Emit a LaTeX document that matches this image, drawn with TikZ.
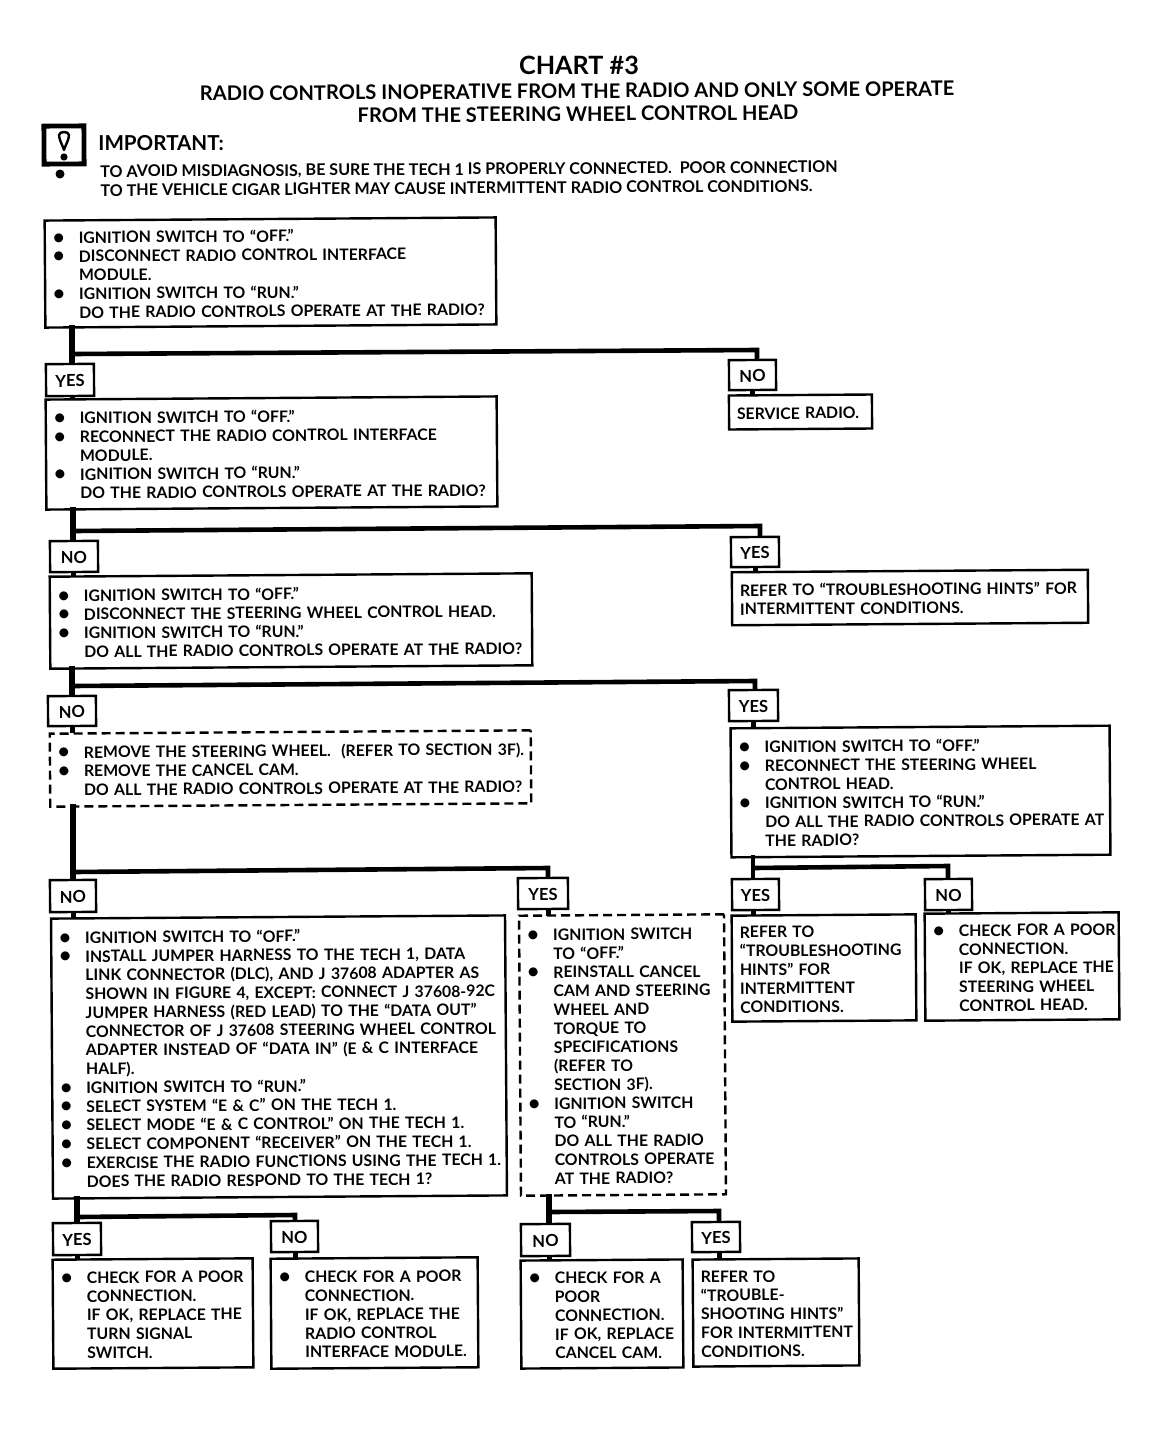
\documentclass[tikz,border=0pt]{standalone}
\usepackage{fontspec}
\setmainfont{Lato}[BoldFont={Lato Bold}]
\newcommand\bodysize{\fontsize{7.9pt}{9.38pt}\selectfont\bfseries}
\newcommand\bigdot{\smash{\raisebox{-0.3pt}{\scalebox{1.3}{\textbullet}}}}
\newcommand\B[1]{\mbox{\makebox[13pt][l]{\bigdot}#1}}
\newcommand\N[1]{\mbox{\hspace{13pt}#1}}
\newcommand\T[1]{\mbox{#1}}
\newcommand\BX[7]{%
  \pgfmathsetlengthmacro\bxw{(#4-#2)*0.5pt}%
  \pgfmathsetlengthmacro\bxh{(#5-#3)*0.5pt}%
  \pgfmathsetlengthmacro\bxt{(#4-#2)*0.5pt-8pt}%
  \pgfmathsetmacro\cx{(#2+#4)/2}%
  \pgfmathsetmacro\cy{(#3+#5)/2}%
  \node[#6,minimum width=\bxw,minimum height=\bxh,text width=\bxt] (#1) at (\cx,\cy) {\rule{0pt}{7pt}#7};}
\newcommand\LB[6]{%
  \pgfmathsetlengthmacro\bxw{(#4-#2)*0.5pt}%
  \pgfmathsetlengthmacro\bxh{(#5-#3)*0.5pt}%
  \pgfmathsetmacro\cx{(#2+#4)/2}%
  \pgfmathsetmacro\cy{(#3+#5)/2}%
  \node[lab,minimum width=\bxw,minimum height=\bxh] (#1) at (\cx,\cy) {\rule{0pt}{7pt}#6};}
\tikzset{
  solidbox/.style={draw=black,line width=1.2pt,rotate=0.4,inner xsep=4pt,inner ysep=0pt,align=left,font=\bodysize},
  dashbox/.style={solidbox,dash pattern=on 4.5pt off 2.5pt},
  lab/.style={draw=black,line width=1.2pt,rotate=0.4,inner sep=0pt,font=\fontsize{8.3pt}{10pt}\selectfont\bfseries},
  trunk/.style={draw=black,line width=3.1pt,shorten <=-1pt,shorten >=-1pt},
  branch/.style={draw=black,line width=2.3pt,line join=miter,shorten >=-1pt},
  stub/.style={draw=black,line width=2.5pt,shorten <=-1pt,shorten >=-1pt},
  head/.style={inner sep=0pt,font=\fontsize{10.05pt}{12pt}\selectfont\bfseries},
  free/.style={inner sep=0pt,align=left,font=\fontsize{8.05pt}{9.5pt}\selectfont\bfseries},
}
\begin{document}
\begin{tikzpicture}[x=0.5pt,y=-0.5pt]
\fill[white] (0,0) rectangle (1168,1440);
\useasboundingbox (0,0) rectangle (1168,1440);
% headings
\node[head,font=\fontsize{12.6pt}{14pt}\selectfont\bfseries] (title) at (579,65) {CHART \#3};
\node[head,rotate=0.38] (sub1) at (577,91) {RADIO CONTROLS INOPERATIVE FROM THE RADIO AND ONLY SOME OPERATE};
\node[head,rotate=0.4] (sub2) at (578,114) {FROM THE STEERING WHEEL CONTROL HEAD};
\node[head,anchor=west,font=\fontsize{10.3pt}{13pt}\selectfont\bfseries] (imp) at (98,143) {IMPORTANT:};
% icon
\node[draw=black,line width=2.4pt,rotate=0.4,minimum width=20pt,minimum height=19pt,inner sep=0pt] (icon) at (64,145) {};
\draw[line width=1.2pt,line join=round] (59,135) .. controls (59,131) and (69,131) .. (69,135) .. controls (69,140) and (65,146) .. (64,150) .. controls (63,146) and (59,140) .. (59,135) -- cycle;
\fill (64,157) circle (3.6);
\fill (60,174) circle (4.5);
\node[free,anchor=north west,rotate=0.35] (note) at (100,165) {\T{TO AVOID MISDIAGNOSIS, BE SURE THE TECH 1 IS PROPERLY CONNECTED.\ \ POOR CONNECTION}\\\T{TO THE VEHICLE CIGAR LIGHTER MAY CAUSE INTERMITTENT RADIO CONTROL CONDITIONS.}};
% boxes
\BX{b1}{45}{219}{496}{326}{solidbox}{\B{IGNITION SWITCH TO “OFF.”}\\\B{DISCONNECT RADIO CONTROL INTERFACE}\\\N{MODULE.}\\\B{IGNITION SWITCH TO “RUN.”}\\\N{DO THE RADIO CONTROLS OPERATE AT THE RADIO?}}
\LB{yes1}{46}{364}{94}{396}{YES}
\LB{no1}{729}{360}{776}{390}{NO}
\BX{b2}{46}{398}{497}{508}{solidbox}{\B{IGNITION SWITCH TO “OFF.”}\\\B{RECONNECT THE RADIO CONTROL INTERFACE}\\\N{MODULE.}\\\B{IGNITION SWITCH TO “RUN.”}\\\N{DO THE RADIO CONTROLS OPERATE AT THE RADIO?}}
\BX{srv}{729}{395}{872}{429}{solidbox}{\T{SERVICE RADIO.}}
\LB{no2}{50}{541}{98}{572}{NO}
\LB{yes2}{731}{537}{779}{567}{YES}
\BX{b3}{50}{575}{532}{667}{solidbox}{\B{IGNITION SWITCH TO “OFF.”}\\\B{DISCONNECT THE STEERING WHEEL CONTROL HEAD.}\\\B{IGNITION SWITCH TO “RUN.”}\\\N{DO ALL THE RADIO CONTROLS OPERATE AT THE RADIO?}}
\BX{ref2}{732}{571}{1088}{624}{solidbox}{\T{REFER TO “TROUBLESHOOTING HINTS” FOR}\\\T{INTERMITTENT CONDITIONS.}}
\LB{no3}{48}{696}{96}{726}{NO}
\LB{yes3}{729}{690}{778}{721}{YES}
\BX{b4}{50}{732}{531}{805}{dashbox}{\B{REMOVE THE STEERING WHEEL.\ \ (REFER TO SECTION 3F).}\\\B{REMOVE THE CANCEL CAM.}\\\N{DO ALL THE RADIO CONTROLS OPERATE AT THE RADIO?}}
\BX{b5}{731}{727}{1110}{856}{solidbox}{\B{IGNITION SWITCH TO “OFF.”}\\\B{RECONNECT THE STEERING WHEEL}\\\N{CONTROL HEAD.}\\\B{IGNITION SWITCH TO “RUN.”}\\\N{DO ALL THE RADIO CONTROLS OPERATE AT}\\\N{THE RADIO?}}
\LB{no4}{50}{880}{96}{912}{NO}
\LB{yes4}{518}{878}{568}{909}{YES}
\LB{yes5}{732}{879}{779}{910}{YES}
\LB{no5}{925}{879}{972}{910}{NO}
\BX{b6}{52}{917}{506}{1197}{solidbox}{\B{IGNITION SWITCH TO “OFF.”}\\\B{INSTALL JUMPER HARNESS TO THE TECH 1, DATA}\\\N{LINK CONNECTOR (DLC), AND J 37608 ADAPTER AS}\\\N{SHOWN IN FIGURE 4, EXCEPT: CONNECT J 37608-92C}\\\N{JUMPER HARNESS (RED LEAD) TO THE “DATA OUT”}\\\N{CONNECTOR OF J 37608 STEERING WHEEL CONTROL}\\\N{ADAPTER INSTEAD OF “DATA IN” (E \& C INTERFACE}\\\N{HALF).}\\\B{IGNITION SWITCH TO “RUN.”}\\\B{SELECT SYSTEM “E \& C” ON THE TECH 1.}\\\B{SELECT MODE “E \& C CONTROL” ON THE TECH 1.}\\\B{SELECT COMPONENT “RECEIVER” ON THE TECH 1.}\\\B{EXERCISE THE RADIO FUNCTIONS USING THE TECH 1.}\\\N{DOES THE RADIO RESPOND TO THE TECH 1?}}
\BX{b7}{520}{915}{725}{1195}{dashbox}{\B{IGNITION SWITCH}\\\N{TO “OFF.”}\\\B{REINSTALL CANCEL}\\\N{CAM AND STEERING}\\\N{WHEEL AND}\\\N{TORQUE TO}\\\N{SPECIFICATIONS}\\\N{(REFER TO}\\\N{SECTION 3F).}\\\B{IGNITION SWITCH}\\\N{TO “RUN.”}\\\N{DO ALL THE RADIO}\\\N{CONTROLS OPERATE}\\\N{AT THE RADIO?}}
\BX{r5}{732}{915}{916}{1021}{solidbox}{\T{REFER TO}\\\T{“TROUBLESHOOTING}\\\T{HINTS” FOR}\\\T{INTERMITTENT}\\\T{CONDITIONS.}}
\BX{c5}{925}{913}{1119}{1020}{solidbox}{\B{CHECK FOR A POOR}\\\N{CONNECTION.}\\\N{IF OK, REPLACE THE}\\\N{STEERING WHEEL}\\\N{CONTROL HEAD.}}
\LB{yes6}{53}{1223}{101}{1255}{YES}
\LB{no6}{271}{1221}{318}{1252}{NO}
\LB{no7}{521}{1224}{570}{1256}{NO}
\LB{yes7}{692}{1222}{740}{1252}{YES}
\BX{c6}{53}{1259}{253}{1368}{solidbox}{\B{CHECK FOR A POOR}\\\N{CONNECTION.}\\\N{IF OK, REPLACE THE}\\\N{TURN SIGNAL}\\\N{SWITCH.}}
\BX{c7}{271}{1258}{478}{1368}{solidbox}{\B{CHECK FOR A POOR}\\\N{CONNECTION.}\\\N{IF OK, REPLACE THE}\\\N{RADIO CONTROL}\\\N{INTERFACE MODULE.}}
\BX{c8}{521}{1260}{683}{1368}{solidbox}{\B{CHECK FOR A}\\\N{POOR}\\\N{CONNECTION.}\\\N{IF OK, REPLACE}\\\N{CANCEL CAM.}}
\BX{r8}{693}{1259}{859}{1366}{solidbox}{\T{REFER TO}\\\T{“TROUBLE-}\\\T{SHOOTING HINTS”}\\\T{FOR INTERMITTENT}\\\T{CONDITIONS.}}
% junctions
\coordinate (j1) at (72,354);   \coordinate (k1) at (757,350);
\coordinate (j2) at (73,531);   \coordinate (k2) at (760,526);
\coordinate (j3) at (72,686);   \coordinate (k3) at (755,681);
\coordinate (j4) at (73,872);   \coordinate (k4) at (548,868);
\coordinate (j5) at (753,868);  \coordinate (k5) at (948,866);
\coordinate (j6) at (77,1217);  \coordinate (k6) at (295,1215);
\coordinate (j7) at (549,1212); \coordinate (k7) at (719,1211);
% trunks and branches
\draw[trunk] (j1 |- b1.south) -- (j1 |- yes1.north);
\draw[branch] (j1) -- (k1) -- (k1 |- no1.north);
\draw[stub] (j1 |- yes1.south) -- (j1 |- b2.north);
\draw[stub] (no1.south) -- (srv.north -| no1.south);
\draw[trunk] (j2 |- b2.south) -- (j2 |- no2.north);
\draw[branch] (j2) -- (k2) -- (k2 |- yes2.north);
\draw[stub] (j2 |- no2.south) -- (j2 |- b3.north);
\draw[stub] (yes2.south) -- (ref2.north -| yes2.south);
\draw[trunk] (j3 |- b3.south) -- (j3 |- no3.north);
\draw[branch] (j3) -- (k3) -- (k3 |- yes3.north);
\draw[stub] (j3 |- no3.south) -- (j3 |- b4.north);
\draw[stub] (yes3.south) -- (b5.north -| yes3.south);
\draw[trunk] (j4 |- b4.south) -- (j4 |- no4.north);
\draw[branch] (j4) -- (k4) -- (k4 |- yes4.north);
\draw[stub] (j4 |- no4.south) -- (j4 |- b6.north);
\draw[stub] (k4 |- yes4.south) -- (k4 |- b7.north);
\draw[branch,shorten <=-1pt] (j5 |- b5.south) -- (j5 |- yes5.north);
\draw[branch] (j5) -- (k5) -- (k5 |- no5.north);
\draw[stub] (j5 |- yes5.south) -- (j5 |- r5.north);
\draw[stub] (k5 |- no5.south) -- (k5 |- c5.north);
\draw[trunk] (j6 |- b6.south) -- (j6 |- yes6.north);
\draw[branch] (j6) -- (k6) -- (k6 |- no6.north);
\draw[stub] (j6 |- yes6.south) -- (j6 |- c6.north);
\draw[stub] (k6 |- no6.south) -- (k6 |- c7.north);
\draw[trunk] (j7 |- b7.south) -- (j7 |- no7.north);
\draw[branch] (j7) -- (k7) -- (k7 |- yes7.north);
\draw[stub] (j7 |- no7.south) -- (j7 |- c8.north);
\draw[stub] (k7 |- yes7.south) -- (k7 |- r8.north);
\end{tikzpicture}
\end{document}
